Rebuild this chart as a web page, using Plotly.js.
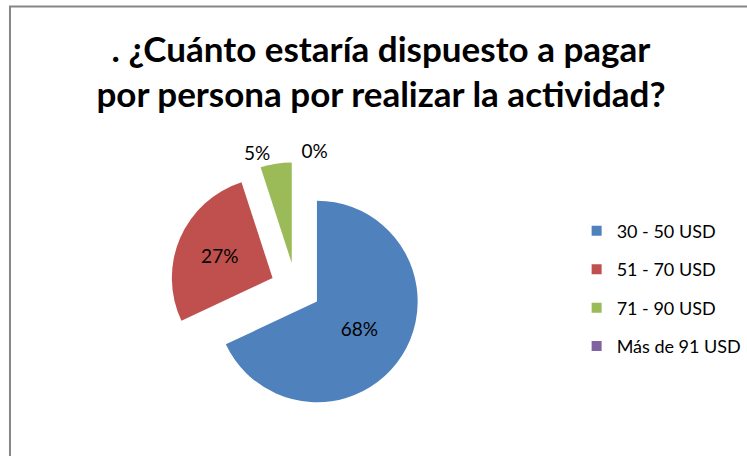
<!DOCTYPE html>
<html>
<head>
<meta charset="utf-8">
<script src="https://cdn.plot.ly/plotly-3.0.1.min.js"></script>
<style>html,body{margin:0;padding:0;background:#fff;}#chart{width:747px;height:456px;}</style>
</head>
<body>
<div id="chart"></div>
<script>
var categories = ["30 - 50 USD", "51 - 70 USD", "71 - 90 USD", "Más de 91 USD"];
var shares = [68, 27, 5, 0];
var colors = ["#4F81BD", "#C0504D", "#9BBB59", "#8064A2"];
var labelPositions = ["inside", "inside", "outside", "outside"];
var titleText = ". ¿Cuánto estaría dispuesto a pagar<br>por persona por realizar la actividad?";

var FONT = "Lato, 'Open Sans', sans-serif";

var traces = [{
  type: "pie",
  labels: categories,
  values: shares,
  sort: false,
  direction: "clockwise",
  rotation: 0,
  pull: 0.25,
  marker: {colors: colors, line: {width: 0}},
  textinfo: "percent",
  texttemplate: "%{percent:.0%}",
  textposition: labelPositions,
  insidetextorientation: "horizontal",
  textfont: {family: FONT, size: 19, color: "#000"},
  showlegend: false,
  hoverinfo: "label+percent",
  domain: {x: [0.2279, 0.5659], y: [0.0916, 0.6453]}
}];

categories.forEach(function (c, i) {
  traces.push({
    type: "scatter",
    mode: "markers",
    x: [null], y: [null],
    name: c,
    legendgroup: "g" + i,
    marker: {symbol: "square", size: 10, color: colors[i]},
    showlegend: true,
    hoverinfo: "skip"
  });
});

var layout = {
  width: 747, height: 456,
  margin: {l: 0, r: 0, t: 0, b: 0},
  paper_bgcolor: "#fff", plot_bgcolor: "#fff",
  font: {family: FONT, color: "#000"},
  title: {
    text: titleText,
    font: {family: FONT, size: 35, color: "#000", weight: "bold"},
    x: 0.51, xanchor: "center",
    y: 0.865, yref: "container", yanchor: "top"
  },
  xaxis: {visible: false},
  yaxis: {visible: false},
  showlegend: true,
  legend: {
    x: 0.774, xanchor: "left",
    y: 0.367, yanchor: "middle",
    font: {family: FONT, size: 18, color: "#000"},
    tracegroupgap: 12,
    bgcolor: "rgba(0,0,0,0)"
  },
  shapes: [{
    type: "rect", xref: "paper", yref: "paper",
    x0: 10 / 747, x1: 1.02, y0: -0.02, y1: 1 - 6.5 / 456,
    line: {color: "#868686", width: 2}
  }]
};

Plotly.newPlot("chart", traces, layout, {displayModeBar: false, staticPlot: true});
</script>
</body>
</html>
